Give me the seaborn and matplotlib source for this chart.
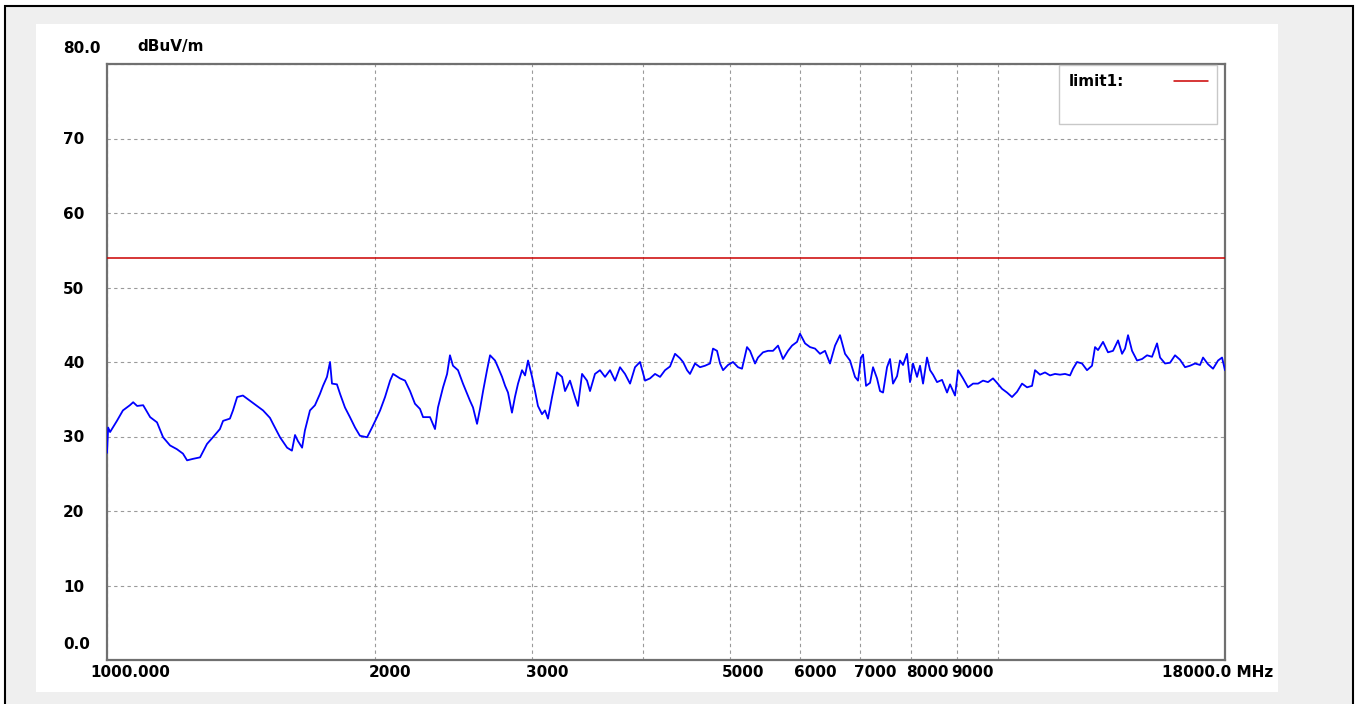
import numpy as np
import pandas as pd
import matplotlib
matplotlib.use("Agg")
import matplotlib.pyplot as plt
import matplotlib.transforms as mtransforms
from matplotlib.patches import Rectangle
from matplotlib.lines import Line2D
import seaborn as sns

# ---------------- data ----------------
freq_mhz = [
    1000, 1003, 1008, 1026, 1042, 1061, 1070, 1081, 1098, 1118, 1138, 1156, 1177, 1198,
    1217, 1230, 1249, 1272, 1295, 1315, 1339, 1350, 1374, 1385, 1400, 1421, 1447, 1474,
    1497, 1524, 1536, 1564, 1593, 1613, 1626, 1638, 1656, 1668, 1690, 1712, 1734, 1748,
    1766, 1780, 1789, 1812, 1827, 1850, 1874, 1899, 1923, 1959, 1984, 2010, 2026, 2052,
    2079, 2095, 2133, 2161, 2189, 2217, 2246, 2264, 2305, 2335, 2353, 2384, 2409, 2427,
    2446, 2478, 2510, 2556, 2576, 2603, 2623, 2644, 2671, 2692, 2727, 2748, 2777, 2799,
    2820, 2849, 2871, 2894, 2924, 2947, 2970, 3001, 3024, 3047, 3079, 3103, 3127, 3160,
    3201, 3243, 3268, 3310, 3353, 3379, 3415, 3459, 3486, 3531, 3577, 3624, 3671, 3719,
    3767, 3816, 3866, 3916, 3967, 4019, 4071, 4124, 4178, 4232, 4287, 4343, 4399, 4434,
    4480, 4514, 4573, 4633, 4693, 4754, 4791, 4841, 4879, 4917, 4980, 5045, 5111, 5164,
    5231, 5272, 5341, 5382, 5452, 5523, 5595, 5668, 5741, 5816, 5877, 5953, 5999, 6078,
    6157, 6237, 6318, 6400, 6483, 6568, 6653, 6740, 6827, 6916, 6970, 7024, 7061, 7116,
    7190, 7246, 7321, 7378, 7436, 7513, 7571, 7630, 7710, 7769, 7830, 7911, 7973, 8035,
    8119, 8182, 8246, 8331, 8397, 8462, 8550, 8661, 8774, 8842, 8957, 9027, 9144, 9263,
    9384, 9506, 9629, 9754, 9881, 9984, 10114, 10246, 10379, 10514, 10651, 10790, 10930,
    11015, 11158, 11303, 11450, 11599, 11750, 11903, 12058, 12152, 12278, 12438, 12599,
    12763, 12863, 12963, 13132, 13302, 13476, 13652, 13794, 13901, 14009, 14155, 14339,
    14526, 14715, 14906, 15100, 15218, 15416, 15616, 15819, 16025, 16234, 16445, 16659,
    16876, 17007, 17228, 17452, 17680, 17863, 18000,
]
level_dbuv = [
    27.8, 31.2, 30.6, 32.1, 33.5, 34.2, 34.6, 34.1, 34.2, 32.6, 31.9, 29.9, 28.8, 28.3,
    27.7, 26.8, 27.0, 27.2, 29.0, 29.9, 31.0, 32.1, 32.4, 33.5, 35.3, 35.5, 34.8, 34.1,
    33.5, 32.5, 31.7, 29.9, 28.5, 28.1, 30.2, 29.4, 28.5, 30.8, 33.5, 34.2, 35.7, 36.8,
    38.0, 40.0, 37.1, 37.0, 35.7, 33.9, 32.6, 31.2, 30.1, 29.9, 31.2, 32.6, 33.5, 35.3,
    37.5, 38.4, 37.8, 37.5, 36.1, 34.4, 33.7, 32.6, 32.6, 31.0, 33.9, 36.6, 38.4, 40.9,
    39.5, 38.9, 37.1, 34.8, 33.9, 31.7, 33.7, 36.1, 38.9, 40.9, 40.2, 39.3, 38.0, 36.8,
    35.9, 33.2, 35.3, 37.1, 38.9, 38.2, 40.2, 38.0, 36.1, 34.1, 33.0, 33.5, 32.4, 35.3,
    38.6, 38.0, 36.1, 37.5, 35.3, 34.1, 38.4, 37.5, 36.1, 38.4, 38.9, 38.0, 38.9, 37.5,
    39.3, 38.4, 37.1, 39.3, 40.0, 37.5, 37.8, 38.4, 38.0, 38.9, 39.4, 41.1, 40.5, 40.0,
    38.9, 38.4, 39.8, 39.3, 39.5, 39.8, 41.8, 41.5, 39.8, 38.9, 39.6, 40.0, 39.3, 39.1,
    42.0, 41.5, 39.8, 40.6, 41.3, 41.5, 41.5, 42.2, 40.4, 41.5, 42.2, 42.7, 43.8, 42.5,
    42.0, 41.8, 41.1, 41.5, 39.8, 42.2, 43.6, 41.1, 40.2, 38.0, 37.5, 40.6, 41.0, 36.8,
    37.2, 39.3, 37.8, 36.1, 35.9, 39.3, 40.4, 37.1, 38.1, 40.2, 39.6, 41.1, 37.3, 39.8,
    38.0, 39.5, 37.1, 40.6, 38.9, 38.3, 37.3, 37.6, 35.9, 37.0, 35.5, 38.9, 37.8, 36.6,
    37.1, 37.1, 37.5, 37.3, 37.8, 37.2, 36.4, 35.9, 35.3, 36.0, 37.1, 36.6, 36.8,
    38.9, 38.3, 38.6, 38.2, 38.4, 38.3, 38.4, 38.2, 39.1, 40.0, 39.8, 38.9,
    39.5, 42.0, 41.6, 42.7, 41.3, 41.5, 42.9, 41.1, 41.8, 43.6, 41.5, 40.2,
    40.4, 40.9, 40.7, 42.5, 40.6, 39.8, 39.9, 40.9, 40.3, 39.3, 39.5, 39.8,
    39.6, 40.6, 39.7, 39.1, 40.2, 40.6, 38.9,
]
limit_freq = [1000, 18000]
limit_level = [54.0, 54.0]
limit_name = "limit1:"

x_ticks = [1000, 2000, 3000, 5000, 6000, 7000, 8000, 9000, 18000]
x_tick_labels = ["1000.000", "2000", "3000", "5000", "6000", "7000", "8000", "9000", "18000.0 MHz"]
x_extra_grid = [4000, 10000]
y_ticks = [0, 10, 20, 30, 40, 50, 60, 70, 80]
y_tick_labels = ["0.0", "10", "20", "30", "40", "50", "60", "70", "80.0"]
y_unit = "dBuV/m"

# ---------------- style ----------------
sns.set_theme(style="white")
plt.rcParams["font.family"] = ["Liberation Sans Narrow", "DejaVu Sans Condensed", "DejaVu Sans"]
plt.rcParams["font.weight"] = "bold"
plt.rcParams["font.size"] = 11
plt.rcParams["text.color"] = "black"
plt.rcParams["xtick.color"] = "black"
plt.rcParams["ytick.color"] = "black"
plt.rcParams["xtick.labelcolor"] = "black"
plt.rcParams["ytick.labelcolor"] = "black"

W, H = 1359, 704
fig = plt.figure(figsize=(W / 100, H / 100), dpi=100, facecolor="white")


def fx(px):
    return px / W


def fy(py):
    return 1 - py / H


# outer window frame and white panel (behind the axes)
fig.patches.append(Rectangle((fx(5), -0.1), fx(1353) - fx(5), fy(6) + 0.1,
                             transform=fig.transFigure, facecolor="#efefef",
                             edgecolor="black", lw=1.5, zorder=-3))
fig.patches.append(Rectangle((fx(36), fy(692)), fx(1278) - fx(36), fy(24) - fy(692),
                             transform=fig.transFigure, facecolor="white",
                             edgecolor="none", zorder=-2))

ax = fig.add_axes([fx(107), fy(660), fx(1225) - fx(107), fy(64) - fy(660)])
ax.set_facecolor("white")
ax.set_xscale("log")

df = pd.DataFrame({"freq": freq_mhz, "level": level_dbuv})
sns.lineplot(data=df, x="freq", y="level", ax=ax, color="#0000ff", lw=1.3,
             estimator=None, sort=False, zorder=3)
lim_df = pd.DataFrame({"freq": limit_freq, "level": limit_level})
sns.lineplot(data=lim_df, x="freq", y="level", ax=ax, color="#cc0000", lw=1.1,
             estimator=None, sort=False, zorder=3)
limit_line = ax.lines[-1]

ax.set_xlim(1000, 18000)
ax.set_ylim(0, 80)
ax.set_xlabel("")
ax.set_ylabel("")

ax.set_xticks(x_ticks)
ax.set_xticklabels(x_tick_labels)
ax.set_xticks(x_extra_grid, minor=True)
ax.xaxis.set_minor_formatter(matplotlib.ticker.NullFormatter())
ax.set_yticks(y_ticks)
ax.set_yticklabels(y_tick_labels)

grid_kw = dict(color="#9a9a9a", linestyle=(0, (3, 3)), lw=0.8)
ax.grid(True, which="both", axis="x", **grid_kw)
ax.grid(True, which="major", axis="y", **grid_kw)
ax.set_axisbelow(True)

for s in ax.spines.values():
    s.set_color("#707070")
    s.set_linewidth(1.6)

ax.tick_params(axis="x", which="both", length=0, pad=3.8, labelsize=11, labelcolor="black")
ax.tick_params(axis="y", which="both", length=0, pad=31.5, labelsize=11, labelcolor="black")

# label alignment / offsets (done after tick_params)
ylabs = ax.get_yticklabels()
for lbl in ylabs:
    lbl.set_horizontalalignment("left")
    lbl.set_fontweight("bold")
up = mtransforms.ScaledTranslation(0, 17 / 100, fig.dpi_scale_trans)
ylabs[0].set_transform(ylabs[0].get_transform() + up)
ylabs[-1].set_transform(ylabs[-1].get_transform() + up)

xlabs = ax.get_xticklabels()
x_shift_px = [-17, -6, -6, -8, -6, -6, -5, -6, 48]
for lbl, dx in zip(xlabs, x_shift_px):
    lbl.set_fontweight("bold")
    lbl.set_horizontalalignment("right" if dx > 0 else "left")
    lbl.set_transform(lbl.get_transform() +
                      mtransforms.ScaledTranslation(dx / 100, 0, fig.dpi_scale_trans))

ax.text((137 - 107) / (1225 - 107), 1 + 17 / 596, y_unit, transform=ax.transAxes,
        ha="left", va="center", fontsize=11, fontweight="bold", color="black")

blank = Line2D([], [], color="none")
leg = ax.legend([limit_line, blank], [limit_name, " "], loc="upper right",
                bbox_to_anchor=((1217 - 107) / (1225 - 107), (660 - 65) / 596),
                borderaxespad=0, markerfirst=False, frameon=True, fancybox=False,
                edgecolor="#c8c8c8", framealpha=1, handlelength=2.2,
                handletextpad=3.3, borderpad=0.6, labelspacing=0.7,
                prop={"weight": "bold", "size": 11})
leg.get_frame().set_linewidth(1.0)
for t in leg.get_texts():
    t.set_color("black")

fig.savefig("out.png", dpi=100, facecolor=fig.get_facecolor())
